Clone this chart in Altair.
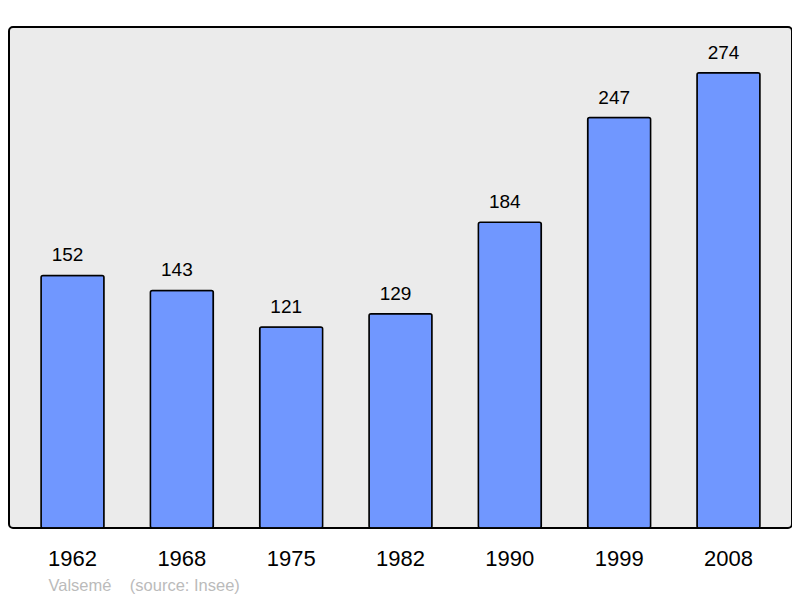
import altair as alt
import pandas as pd

years = ["1962", "1968", "1975", "1982", "1990", "1999", "2008"]
population = [152, 143, 121, 129, 184, 247, 274]

df = pd.DataFrame({"year": years, "pop": population})

FONT = "Liberation Sans"

x = alt.X(
    "year:N",
    sort=years,
    scale=alt.Scale(paddingInner=0.424, paddingOuter=0.293),
    axis=alt.Axis(
        title="Valsemé\u00a0\u00a0\u00a0\u00a0(source: Insee)",
        titleFont=FONT,
        titleFontSize=16.5,
        titleFontWeight="normal",
        titleColor="#BBBBBB",
        titleAnchor="start",
        titleAlign="left",
        titleBaseline="alphabetic",
        titleX=39,
        titleY=62,
        labelAngle=0,
        labelFont=FONT,
        labelFontSize=22,
        labelColor="#000000",
        labelBaseline="alphabetic",
        labelPadding=37,
        domain=False,
        ticks=False,
        grid=False,
    ),
)
y = alt.Y(
    "pop:Q",
    scale=alt.Scale(domain=[0, 301.5], nice=False),
    axis=None,
)

bars = alt.Chart(df).mark_bar(
    color="#7097FF",
    stroke="#000000",
    strokeWidth=1.5,
    cornerRadius=2,
).encode(x=x, y=y)

labels = alt.Chart(df).mark_text(
    font=FONT,
    fontSize=19,
    color="#000000",
    baseline="alphabetic",
    dy=-14,
    dx=-5,
).encode(x=alt.X("year:N", sort=years), y="pop:Q", text="pop:Q")

chart = (
    alt.layer(bars, labels)
    .properties(
        width=783,
        height=501,
        autosize=alt.AutoSizeParams(type="none"),
        padding={"left": 1, "top": 19, "right": 0, "bottom": 70},
        background="#FFFFFF",
    )
    .configure_view(
        fill="#EBEBEB",
        stroke="#000000",
        strokeWidth=2,
        cornerRadius=4,
    )
)

chart.save("out.html", embed_options={"renderer": "svg", "actions": False})
